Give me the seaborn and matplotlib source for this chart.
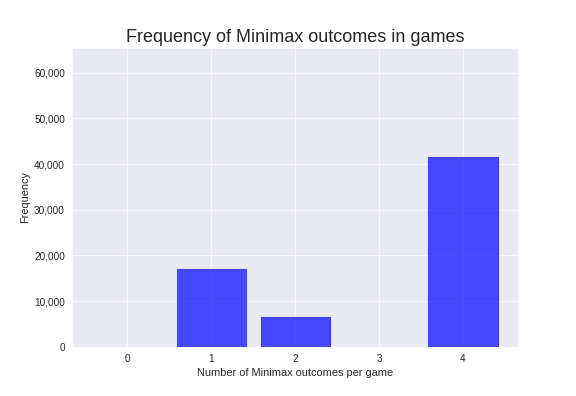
import matplotlib
matplotlib.use("Agg")
import matplotlib.pyplot as plt
import matplotlib.ticker as mticker
import seaborn as sns
import pandas as pd

outcomes = ["0", "1", "2", "3", "4"]
frequency = [0, 17300, 6800, 0, 41700]

sns.set_style("darkgrid")
plt.rcParams['font.family'] = ['Liberation Sans', 'DejaVu Sans']

df = pd.DataFrame({"outcomes": outcomes, "frequency": frequency})

fig, ax = plt.subplots(figsize=(8, 5.5), dpi=72)
sns.barplot(data=df, x="outcomes", y="frequency", order=outcomes, color="blue",
            saturation=1, alpha=0.7, width=0.85, ax=ax)

ax.set_xlim(-0.66, 4.66)
ax.set_ylim(0, 65500)
ax.yaxis.set_major_formatter(mticker.FuncFormatter(lambda v, p: f"{int(v):,}"))
ax.tick_params(labelsize=10, colors=".15")
ax.set_xlabel("Number of Minimax outcomes per game", fontsize=11, color=".15")
ax.set_ylabel("Frequency", fontsize=11, color=".15")
ax.set_title("Frequency of Minimax outcomes in games", fontsize=18, color=".15")
ax.grid(True, axis="both", color="white")

fig.subplots_adjust(left=0.125, right=0.9, top=0.88, bottom=0.124)
fig.savefig("out.png", dpi=72)
